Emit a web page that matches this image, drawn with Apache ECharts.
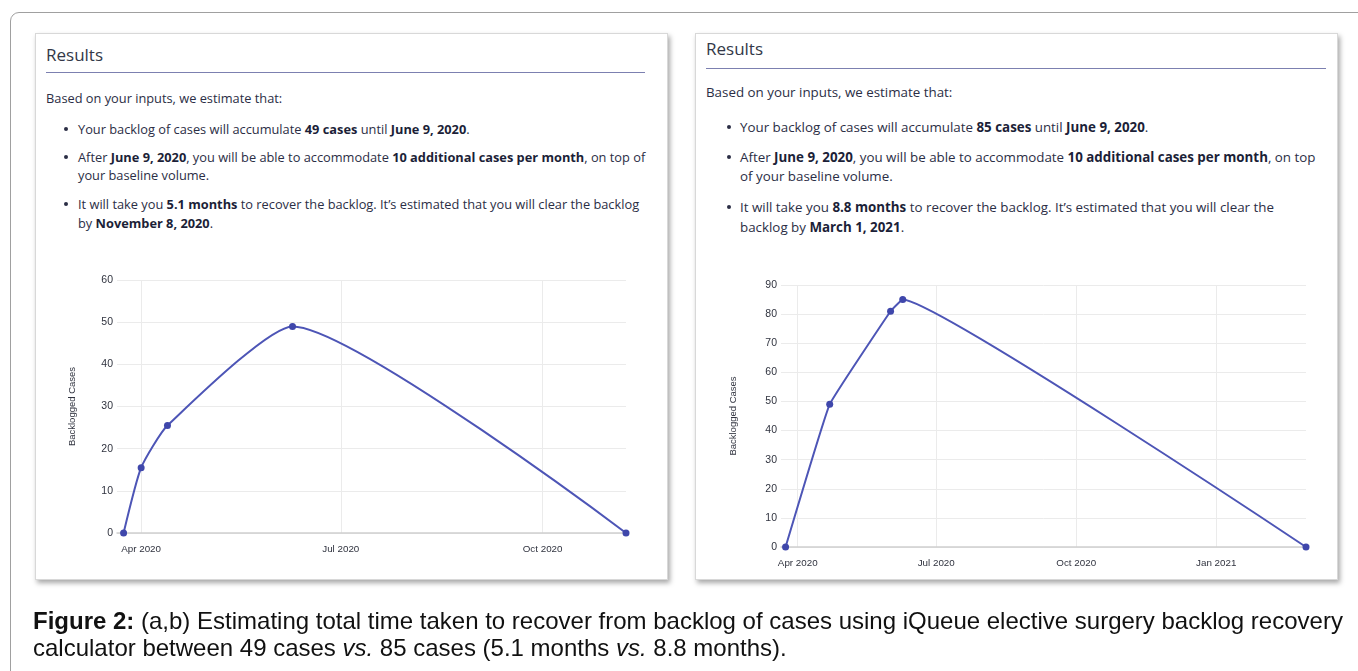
<!DOCTYPE html>
<html>
<head>
<meta charset="utf-8">
<script src="https://cdn.jsdelivr.net/npm/echarts@6/dist/echarts.min.js"></script>
<style>
  html, body { margin: 0; padding: 0; background: #fff; width: 1358px; height: 671px; overflow: hidden; }
  #outer { position: absolute; left: 10px; top: 12px; width: 1400px; height: 720px; border: 1.5px solid #a0a0a0; border-radius: 9px; }
  .panel { position: absolute; background: #fff; border: 1px solid #d8d8d8; box-shadow: 2px 3px 5px rgba(0,0,0,0.35); }
  .t { position: absolute; font-family: "Open Sans", sans-serif; color: #2b2e45; white-space: nowrap; }
  .t b { font-weight: 700; color: #1c1f38; }
  .h { font-size: 17px; line-height: 20px; color: #333848; }
  .rule { position: absolute; height: 0; border-top: 1.5px solid #7c80b0; }
  .pl { font-size: 12.8px; }
  .pr { font-size: 13.35px; }
  .dot { position: absolute; width: 4px; height: 4px; border-radius: 50%; background: #2b2e45; }
  #chart { position: absolute; left: 0; top: 0; width: 1358px; height: 671px; }
  #caption { position: absolute; left: 33px; top: 607px; font-family: "Liberation Sans", Arial, sans-serif; font-size: 24px; line-height: 27px; color: #111; white-space: nowrap; }
</style>
</head>
<body>
<div id="outer"></div>
<div class="panel" style="left:35px; top:33px; width:631px; height:545px;"></div>
<div class="panel" style="left:695px; top:33px; width:641px; height:545px;"></div>

<!-- left panel text -->
<div class="t h" style="left:46px; top:45px;">Results</div>
<div class="rule" style="left:46px; top:72px; width:599px;"></div>
<div class="t pl" style="left:46px; top:89px; line-height:18px;">Based on your inputs, we estimate that:</div>
<div class="dot" style="left:64px; top:127px;"></div>
<div class="t pl" style="left:78px; top:120px; line-height:18px;">Your backlog of cases will accumulate <b>49 cases</b> until <b>June 9, 2020</b>.</div>
<div class="dot" style="left:64px; top:155px;"></div>
<div class="t pl" style="left:78px; top:148px; line-height:18px;">After <b>June 9, 2020</b>, you will be able to accommodate <b>10 additional cases per month</b>, on top of<br>your baseline volume.</div>
<div class="dot" style="left:64px; top:202px;"></div>
<div class="t pl" style="left:78px; top:194.5px; line-height:19px;">It will take you <b>5.1 months</b> to recover the backlog. It’s estimated that you will clear the backlog<br>by <b>November 8, 2020</b>.</div>

<!-- right panel text -->
<div class="t h" style="left:706px; top:39px;">Results</div>
<div class="rule" style="left:706px; top:68px; width:620px;"></div>
<div class="t pr" style="left:706px; top:83px; line-height:18px;">Based on your inputs, we estimate that:</div>
<div class="dot" style="left:727px; top:125px;"></div>
<div class="t pr" style="left:740px; top:118px; line-height:18px;">Your backlog of cases will accumulate <b>85 cases</b> until <b>June 9, 2020</b>.</div>
<div class="dot" style="left:727px; top:155px;"></div>
<div class="t pr" style="left:740px; top:147.5px; line-height:19px;">After <b>June 9, 2020</b>, you will be able to accommodate <b>10 additional cases per month</b>, on top<br>of your baseline volume.</div>
<div class="dot" style="left:727px; top:205px;"></div>
<div class="t pr" style="left:740px; top:197px; line-height:20px;">It will take you <b>8.8 months</b> to recover the backlog. It’s estimated that you will clear the<br>backlog by <b>March 1, 2021</b>.</div>

<div id="chart"></div>

<div id="caption"><b>Figure 2:</b> (a,b) Estimating total time taken to recover from backlog of cases using iQueue elective surgery backlog recovery<br>calculator between 49 cases <i>vs.</i> 85 cases (5.1 months <i>vs.</i> 8.8 months).</div>

<script>
// ---- data ----
const leftDates = ['2020-03-24', '2020-04-01', '2020-04-13', '2020-06-09', '2020-11-08'];
const leftValues = [0, 15.5, 25.5, 49, 0];
const rightDates = ['2020-03-24', '2020-04-22', '2020-06-01', '2020-06-09', '2021-03-01'];
const rightValues = [0, 49, 81, 85, 0];
const leftTickDates = ['2020-04-01', '2020-07-01', '2020-10-01'];
const rightTickDates = ['2020-04-01', '2020-07-01', '2020-10-01', '2021-01-01'];
const axisStart = '2020-03-21';
const leftYMax = 60;
const rightYMax = 90;
const yTitle = 'Backlogged Cases';
const monthNames = ['Jan','Feb','Mar','Apr','May','Jun','Jul','Aug','Sep','Oct','Nov','Dec'];

const ts = s => Date.UTC(+s.slice(0, 4), +s.slice(5, 7) - 1, +s.slice(8, 10));
const pairs = (d, v) => d.map((x, i) => [ts(x), v[i]]);

const lineColor = '#4d55b6';
const labelColor = '#30333f';
const fontFam = 'Liberation Sans, Arial, sans-serif';

function xAxisFor(gridIndex, maxDate, ticks) {
  const tv = ticks.map(ts);
  return {
    type: 'value', gridIndex: gridIndex,
    min: ts(axisStart), max: ts(maxDate),
    axisLine: { show: true, onZero: false, lineStyle: { color: '#cfcfcf', width: 1.5 } },
    axisTick: { show: false, customValues: tv },
    axisLabel: {
      customValues: tv, color: labelColor, fontSize: 9.8, margin: 11, fontFamily: fontFam,
      showMinLabel: true, showMaxLabel: true,
      formatter: v => { const d = new Date(v); return monthNames[d.getUTCMonth()] + ' ' + d.getUTCFullYear(); }
    },
    splitLine: { show: true, lineStyle: { color: '#ebebeb', width: 1 } }
  };
}
function yAxisFor(gridIndex, max, gap) {
  return {
    type: 'value', gridIndex: gridIndex, min: 0, max: max, interval: 10,
    name: yTitle, nameLocation: 'middle', nameGap: gap, nameRotate: 90,
    nameTextStyle: { color: labelColor, fontSize: 9.5, fontFamily: fontFam },
    axisLine: { show: false }, axisTick: { show: false },
    axisLabel: { color: labelColor, fontSize: 10.5, margin: 4, fontFamily: fontFam },
    splitLine: { show: true, lineStyle: { color: '#ebebeb', width: 1 } }
  };
}
function seriesFor(idx, d, v, smooth) {
  return {
    type: 'line', xAxisIndex: idx, yAxisIndex: idx,
    data: pairs(d, v), smooth: smooth,
    symbol: 'circle', symbolSize: 7,
    lineStyle: { color: lineColor, width: 2 },
    itemStyle: { color: '#3f47ab' },
    z: 5
  };
}

const chart = echarts.init(document.getElementById('chart'), null, { renderer: 'canvas' });
chart.setOption({
  animation: false,
  grid: [
    { left: 117, top: 280, width: 509, height: 253 },
    { left: 781, top: 285, width: 525, height: 262 }
  ],
  xAxis: [xAxisFor(0, leftDates[leftDates.length - 1], leftTickDates), xAxisFor(1, rightDates[rightDates.length - 1], rightTickDates)],
  yAxis: [yAxisFor(0, leftYMax, 40), yAxisFor(1, rightYMax, 43)],
  series: [seriesFor(0, leftDates, leftValues, 0.18), seriesFor(1, rightDates, rightValues, 0.08)]
});
</script>
</body>
</html>
